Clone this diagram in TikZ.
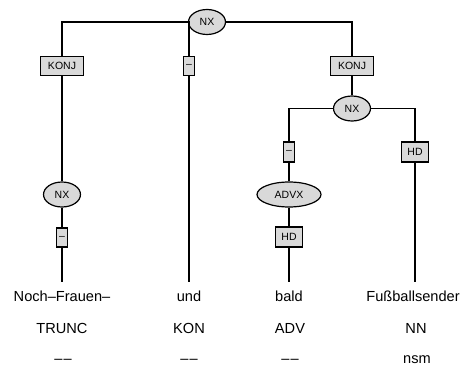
\documentclass[tikz,border=0pt]{standalone}
\usepackage{fontspec}
\setmainfont{Liberation Sans}
\usetikzlibrary{shapes.geometric}
\definecolor{boxgray}{HTML}{D9D9D9}
\tikzset{
  every picture/.style={x=1pt,y=-1pt},
  link/.style={line width=1.3pt,black},
  catbox/.style={draw,line width=1.2pt,fill=boxgray,rectangle,inner sep=0pt,minimum height=19pt,font=\fontsize{10.5}{12}\selectfont},
  catell/.style={draw,line width=1.2pt,fill=boxgray,ellipse,inner sep=0pt,minimum height=25pt,font=\fontsize{10.5}{12}\selectfont},
  word/.style={anchor=base,inner xsep=0pt,inner ysep=9pt,text height=10pt,text depth=3pt,font=\fontsize{14.6}{16}\selectfont},
  tag/.style={anchor=base,inner sep=0pt,font=\fontsize{14.6}{16}\selectfont}
}
\newcommand{\ddash}{–\kern1.2pt–}
\begin{document}
\begin{tikzpicture}
\useasboundingbox (0,0) rectangle (468,369);
% nodes
\node[catell,minimum width=37pt] (nx1) at (207,22) {NX};
\node[catbox,minimum width=43pt] (konj1) at (62,66) {KONJ};
\node[catbox,minimum width=11pt] (dash1) at (189,66) {–};
\node[catbox,minimum width=43pt] (konj2) at (352,66) {KONJ};
\node[catell,minimum width=37pt] (nx2) at (352,108.5) {NX};
\node[catbox,minimum width=11pt,minimum height=20pt] (dash2) at (289,152) {–};
\node[catbox,minimum width=27pt,minimum height=20pt] (hd1) at (415,152) {HD};
\node[catell,minimum width=64pt] (advx) at (289,194.5) {ADVX};
\node[catbox,minimum width=27pt,minimum height=20pt] (hd2) at (289,237) {HD};
\node[catell,minimum width=37pt] (nx3) at (62,194.5) {NX};
\node[catbox,minimum width=11pt] (dash3) at (62,237.5) {–};
% words
\node[word] (w1) at (62,301) {Noch–Frauen–};
\node[word] (w2) at (189,301) {und};
\node[word] (w3) at (289,301) {bald};
\node[word] (w4) at (413,301) {Fußballsender};
\node[tag] (t1) at (62,333) {TRUNC};
\node[tag] (t2) at (189,333) {KON};
\node[tag] (t3) at (290,333) {ADV};
\node[tag] (t4) at (416,333) {NN};
\node[tag] (m1) at (63,363) {\ddash};
\node[tag] (m2) at (189,363) {\ddash};
\node[tag] (m3) at (290,363) {\ddash};
\node[tag] (m4) at (417,363) {nsm};
% connectors
\draw[link] (nx1.west) -| (konj1.north);
\draw[link] (nx1.west) -| (dash1.north);
\draw[link] (nx1.east) -| (konj2.north);
\draw[link] (konj1.south) -- (nx3.north);
\draw[link] (nx3.south) -- (dash3.north);
\draw[link] (dash3.south) -- (w1.north);
\draw[link] (dash1.south) -- (w2.north);
\draw[link] (konj2.south) -- (nx2.north);
\draw[link] (nx2.west) -| (dash2.north);
\draw[link] (nx2.east) -| (hd1.north);
\draw[link] (dash2.south) -- (advx.north);
\draw[link] (advx.south) -- (hd2.north);
\draw[link] (hd2.south) -- (w3.north);
\draw[link] (hd1.south) -- (hd1.south |- w4.north);
\end{tikzpicture}
\end{document}
